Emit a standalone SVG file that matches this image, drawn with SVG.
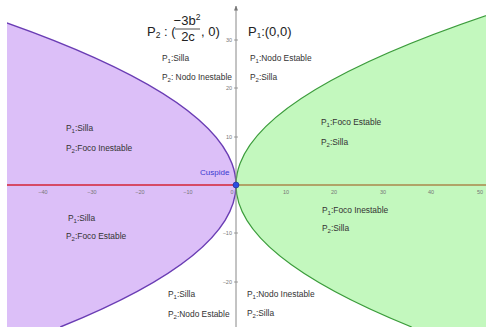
<svg xmlns="http://www.w3.org/2000/svg" width="486" height="327" viewBox="0 0 486 327">
<defs>
<clipPath id="plot"><rect x="7" y="0" width="479" height="327"/></clipPath>
<marker id="arr" viewBox="0 0 10 10" refX="9" refY="5" markerWidth="5" markerHeight="5" orient="auto"><path d="M0,1 L10,5 L0,9 Z" fill="#777"/></marker>
</defs>
<style>
.lbl{font-family:"Liberation Sans",Arial,sans-serif;font-size:8.4px;fill:#333}
.sub{font-size:6px}
.tick{font-family:"Liberation Sans",Arial,sans-serif;font-size:5.5px;fill:#777}
.title{font-family:"Liberation Sans",Arial,sans-serif;font-size:13px;fill:#222}
</style>
<rect width="486" height="327" fill="#fff"/>
<g id="regions" clip-path="url(#plot)">
<path id="purple-region" d="M-62.3,0 Q464.9,163.5 60.3,327 L-80,327 L-80,0 Z" fill="#dcbff8"/>
<path id="green-region" d="M534.3,0 Q7.1,163.5 411.7,327 L560,327 L560,0 Z" fill="#c3f8be"/>
</g>
<g id="connectors" clip-path="url(#plot)" fill="none">
<path d="M-62.3,0 Q464.9,163.5 60.3,327" stroke="#6a3db4" stroke-width="1.4"/>
<path d="M534.3,0 Q7.1,163.5 411.7,327" stroke="#3b9c3b" stroke-width="1.2"/>
<line x1="236" y1="327" x2="236" y2="6" stroke="#888" stroke-width="1" marker-end="url(#arr)"/>
<line x1="7" y1="185" x2="236" y2="185" stroke="#d64a66" stroke-width="1.8"/>
<line x1="236" y1="185" x2="486" y2="185" stroke="#b0a468" stroke-width="1.8"/>
<g stroke="#888" stroke-width="0.8">
<line x1="234" y1="40" x2="238" y2="40"/>
<line x1="234" y1="88" x2="238" y2="88"/>
<line x1="234" y1="137" x2="238" y2="137"/>
<line x1="234" y1="233" x2="238" y2="233"/>
<line x1="234" y1="282" x2="238" y2="282"/>
</g>
</g>
<g id="ticks">
<text class="tick" x="43" y="194" text-anchor="middle">−40</text>
<text class="tick" x="92" y="194" text-anchor="middle">−30</text>
<text class="tick" x="140" y="194" text-anchor="middle">−20</text>
<text class="tick" x="188" y="194" text-anchor="middle">−10</text>
<text class="tick" x="232" y="194" text-anchor="middle">0</text>
<text class="tick" x="286" y="194" text-anchor="middle">10</text>
<text class="tick" x="334" y="194" text-anchor="middle">20</text>
<text class="tick" x="383" y="194" text-anchor="middle">30</text>
<text class="tick" x="431" y="194" text-anchor="middle">40</text>
<text class="tick" x="480" y="194" text-anchor="middle">50</text>
<text class="tick" x="232" y="42" text-anchor="end">30</text>
<text class="tick" x="232" y="90" text-anchor="end">20</text>
<text class="tick" x="232" y="139" text-anchor="end">10</text>
<text class="tick" x="232" y="235" text-anchor="end">−10</text>
<text class="tick" x="232" y="284" text-anchor="end">−20</text>
</g>
<g id="cusp">
<circle cx="236" cy="185" r="3" fill="#2a4ee0" stroke="#1a2a90" stroke-width="0.6"/>
<text x="200" y="175" font-family="Liberation Sans, Arial, sans-serif" font-size="8" fill="#3a3ad0">Cuspide</text>
</g>
<g id="title-p2">
<text class="title" x="147" y="36">P<tspan font-size="8.5" dy="2">2</tspan><tspan dy="-2"> : (</tspan></text>
<text class="title" x="187" y="25" text-anchor="middle">−3b<tspan font-size="8.5" dy="-5">2</tspan></text>
<line x1="175" y1="29" x2="200" y2="29" stroke="#222" stroke-width="0.8"/>
<text class="title" x="188" y="41" text-anchor="middle">2c</text>
<text class="title" x="201" y="36">, 0)</text>
</g>
<g id="title-p1">
<text class="title" x="248" y="36" font-size="12">P<tspan font-size="8" dy="2">1</tspan><tspan dy="-2">:(0,0)</tspan></text>
</g>
<g id="top-left-label">
<text class="lbl" x="162" y="61">P<tspan class="sub" dy="2">1</tspan><tspan dy="-2">:Silla</tspan></text>
<text class="lbl" x="162" y="80">P<tspan class="sub" dy="2">2</tspan><tspan dy="-2">: Nodo Inestable</tspan></text>
</g>
<g id="top-right-label">
<text class="lbl" x="250" y="61">P<tspan class="sub" dy="2">1</tspan><tspan dy="-2">:Nodo Estable</tspan></text>
<text class="lbl" x="250" y="80">P<tspan class="sub" dy="2">2</tspan><tspan dy="-2">:Silla</tspan></text>
</g>
<g id="mid-left-label">
<text class="lbl" x="66" y="131">P<tspan class="sub" dy="2">1</tspan><tspan dy="-2">:Silla</tspan></text>
<text class="lbl" x="66" y="151">P<tspan class="sub" dy="2">2</tspan><tspan dy="-2">:Foco Inestable</tspan></text>
</g>
<g id="mid-right-label">
<text class="lbl" x="321" y="125">P<tspan class="sub" dy="2">1</tspan><tspan dy="-2">:Foco Estable</tspan></text>
<text class="lbl" x="321" y="145">P<tspan class="sub" dy="2">2</tspan><tspan dy="-2">:Silla</tspan></text>
</g>
<g id="low-left-label">
<text class="lbl" x="68" y="221">P<tspan class="sub" dy="2">1</tspan><tspan dy="-2">:Silla</tspan></text>
<text class="lbl" x="66" y="239">P<tspan class="sub" dy="2">2</tspan><tspan dy="-2">:Foco Estable</tspan></text>
</g>
<g id="low-right-label">
<text class="lbl" x="322" y="213">P<tspan class="sub" dy="2">1</tspan><tspan dy="-2">:Foco Inestable</tspan></text>
<text class="lbl" x="322" y="231">P<tspan class="sub" dy="2">2</tspan><tspan dy="-2">:Silla</tspan></text>
</g>
<g id="bottom-left-label">
<text class="lbl" x="168" y="297">P<tspan class="sub" dy="2">1</tspan><tspan dy="-2">:Silla</tspan></text>
<text class="lbl" x="168" y="317">P<tspan class="sub" dy="2">2</tspan><tspan dy="-2">:Nodo Estable</tspan></text>
</g>
<g id="bottom-right-label">
<text class="lbl" x="247" y="297">P<tspan class="sub" dy="2">1</tspan><tspan dy="-2">:Nodo Inestable</tspan></text>
<text class="lbl" x="247" y="316">P<tspan class="sub" dy="2">2</tspan><tspan dy="-2">:Silla</tspan></text>
</g>
</svg>
